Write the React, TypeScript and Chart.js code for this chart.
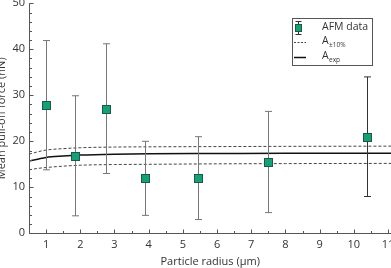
import React, { useEffect, useRef } from "react";
import { Chart, registerables } from "chart.js";

Chart.register(...registerables);

// AFM data
const radius = [1.0, 1.86, 2.75, 3.9, 5.45, 7.49, 10.39];
const force = [27.8, 16.8, 27.0, 12.0, 12.0, 15.5, 21.0];
const errHigh = [41.9, 29.9, 41.2, 20.0, 21.0, 26.5, 34.0];
const errLow = [13.8, 3.8, 13.0, 3.9, 3.0, 4.5, 8.0];

// Model curves
const curveX = [0.5, 0.75, 1, 1.5, 2, 3, 4, 6, 8, 11.1];
const aExp = [15.7, 16.1, 16.5, 16.8, 17.0, 17.2, 17.3, 17.35, 17.4, 17.4];
const aUpper = [17.2, 17.7, 18.1, 18.4, 18.6, 18.75, 18.8, 18.85, 18.9, 18.95];
const aLower = [13.8, 14.1, 14.3, 14.6, 14.8, 14.95, 15.0, 15.1, 15.15, 15.2];

// Ticks
const xTickValues = [1, 2, 3, 4, 5, 6, 7, 8, 9, 10, 11];
const yTickValues = [0, 10, 20, 30, 40, 50];

const FONT = "'Open Sans', 'Noto Sans', sans-serif";
const OFFSET = 9; // canvas shifted left by this many px
const errColors = ["#777", "#777", "#777", "#777", "#777", "#777", "#333"];

const errorBarPlugin = {
  id: "errorBars",
  afterDatasetsDraw(chart: any) {
    const { ctx, scales } = chart;
    const xs = scales.x, ys = scales.y;
    ctx.save();
    ctx.lineWidth = 1;
    radius.forEach((r, i) => {
      const x = Math.round(xs.getPixelForValue(r)) + 0.5;
      const yh = ys.getPixelForValue(errHigh[i]);
      const yl = ys.getPixelForValue(errLow[i]);
      ctx.strokeStyle = errColors[i];
      ctx.beginPath();
      ctx.moveTo(x, yh);
      ctx.lineTo(x, yl);
      ctx.moveTo(x - 3.5, yh);
      ctx.lineTo(x + 3.5, yh);
      ctx.moveTo(x - 3.5, yl);
      ctx.lineTo(x + 3.5, yl);
      ctx.stroke();
    });
    // markers on top of error bars
    const meta = chart.getDatasetMeta(0);
    meta.data.forEach((pt: any) => {
      const s = 8;
      const px = Math.round(pt.x) + 0.5;
      const py = Math.round(pt.y) + 0.5;
      ctx.fillStyle = "#17a077";
      ctx.strokeStyle = "#1d5a45";
      ctx.lineWidth = 1;
      ctx.fillRect(px - s / 2, py - s / 2, s, s);
      ctx.strokeRect(px - s / 2, py - s / 2, s, s);
    });
    ctx.restore();
  },
};

const axesPlugin = {
  id: "axesTicks",
  afterDraw(chart: any) {
    const { ctx, chartArea, scales } = chart;
    const xs = scales.x, ys = scales.y;
    ctx.save();
    ctx.strokeStyle = "#555";
    ctx.lineWidth = 1;
    const left = Math.round(chartArea.left) + 0.5;
    const bottom = Math.round(chartArea.bottom) + 0.5;
    ctx.beginPath();
    ctx.moveTo(left, chartArea.top);
    ctx.lineTo(left, bottom);
    ctx.lineTo(chartArea.right, bottom);
    for (let v = 0.5; v <= 11.01; v += 0.5) {
      const x = Math.round(xs.getPixelForValue(v)) + 0.5;
      const len = Number.isInteger(v) ? 4 : 2.5;
      ctx.moveTo(x, bottom);
      ctx.lineTo(x, bottom - len);
    }
    for (let v = 0; v <= 50; v += 2) {
      const y = Math.round(ys.getPixelForValue(v)) + 0.5;
      const len = v % 10 === 0 ? 4 : 2.5;
      ctx.moveTo(left, y);
      ctx.lineTo(left + len, y);
    }
    ctx.stroke();

    // Legend
    const ox = OFFSET;
    ctx.fillStyle = "#fff";
    ctx.fillRect(292 + ox, 18, 80, 47);
    ctx.strokeStyle = "#555";
    ctx.strokeRect(292.5 + ox, 18.5, 80, 47);
    // row 1 icon
    const ix = 298.5 + ox;
    ctx.strokeStyle = "#333";
    ctx.beginPath();
    ctx.moveTo(ix, 21.5);
    ctx.lineTo(ix, 34.5);
    ctx.moveTo(ix - 3, 21.5);
    ctx.lineTo(ix + 3, 21.5);
    ctx.moveTo(ix - 3, 34.5);
    ctx.lineTo(ix + 3, 34.5);
    ctx.stroke();
    ctx.fillStyle = "#17a077";
    ctx.strokeStyle = "#1d5a45";
    ctx.fillRect(ix - 3, 24.5, 6, 7);
    ctx.strokeRect(ix - 3, 24.5, 6, 7);
    // row 2 dashed
    ctx.strokeStyle = "#444";
    ctx.setLineDash([2, 1.5]);
    ctx.beginPath();
    ctx.moveTo(294 + ox, 42.5);
    ctx.lineTo(306 + ox, 42.5);
    ctx.stroke();
    ctx.setLineDash([]);
    // row 3 solid
    ctx.strokeStyle = "#111";
    ctx.lineWidth = 1.5;
    ctx.beginPath();
    ctx.moveTo(294 + ox, 57.5);
    ctx.lineTo(306 + ox, 57.5);
    ctx.stroke();
    // text
    ctx.fillStyle = "#333";
    ctx.textBaseline = "middle";
    ctx.textAlign = "left";
    ctx.font = `10.5px ${FONT}`;
    ctx.fillText("AFM data", 322 + ox, 27.5);
    ctx.fillText("A", 322 + ox, 41.5);
    ctx.fillText("A", 322 + ox, 56.5);
    ctx.font = `6.5px ${FONT}`;
    ctx.fillText("±10%", 329 + ox, 45);
    ctx.fillText("exp", 329 + ox, 60);
    ctx.restore();
  },
};

export default function App() {
  const ref = useRef<HTMLCanvasElement>(null);
  useEffect(() => {
    document.documentElement.style.overflow = "hidden";
    document.body.style.overflow = "hidden";
    const chart = new Chart(ref.current!, {
      type: "scatter",
      data: {
        datasets: [
          {
            label: "AFM data",
            data: radius.map((r, i) => ({ x: r, y: force[i] })),
            pointStyle: "rect",
            pointRadius: 0,
            backgroundColor: "#17a077",
            borderColor: "#1d5a45",
            showLine: false,
          },
          {
            label: "A+10%",
            data: curveX.map((x, i) => ({ x, y: aUpper[i] })),
            showLine: true,
            pointRadius: 0,
            borderColor: "#444",
            borderWidth: 1,
            borderDash: [3, 2],
            cubicInterpolationMode: "monotone",
          },
          {
            label: "A-10%",
            data: curveX.map((x, i) => ({ x, y: aLower[i] })),
            showLine: true,
            pointRadius: 0,
            borderColor: "#444",
            borderWidth: 1,
            borderDash: [3, 2],
            cubicInterpolationMode: "monotone",
          },
          {
            label: "Aexp",
            data: curveX.map((x, i) => ({ x, y: aExp[i] })),
            showLine: true,
            pointRadius: 0,
            borderColor: "#111",
            borderWidth: 1.5,
            cubicInterpolationMode: "monotone",
          },
        ],
      },
      options: {
        animation: false,
        responsive: true,
        maintainAspectRatio: false,
        layout: { padding: { left: 0, top: 3.3, right: 9.6, bottom: 0 } },
        plugins: { legend: { display: false }, tooltip: { enabled: false } },
        scales: {
          x: {
            type: "linear",
            min: 0.5,
            max: 11.1,
            grid: { display: false, drawTicks: false },
            border: { display: false },
            afterBuildTicks: (s: any) => {
              s.ticks = xTickValues.map((v) => ({ value: v }));
            },
            afterFit: (s: any) => {
              s.height = 34.7;
              s.paddingLeft = 0;
              s.paddingRight = 0;
            },
            ticks: {
              padding: 5,
              color: "#333",
              font: { family: FONT, size: 11 },
              maxRotation: 0,
              autoSkip: false,
            },
            title: {
              display: true,
              text: "Particle radius (μm)",
              color: "#333",
              font: { family: FONT, size: 11 },
              padding: { top: 0, bottom: 0 },
            },
          },
          y: {
            type: "linear",
            min: 0,
            max: 50,
            grid: { display: false, drawTicks: false },
            border: { display: false },
            afterBuildTicks: (s: any) => {
              s.ticks = yTickValues.map((v) => ({ value: v }));
            },
            afterFit: (s: any) => {
              s.width = 38;
              s.paddingTop = 0;
              s.paddingBottom = 0;
            },
            ticks: {
              padding: 4,
              color: "#333",
              font: { family: FONT, size: 11 },
            },
            title: {
              display: true,
              text: "Mean pull-off force (nN)",
              color: "#333",
              font: { family: FONT, size: 11 },
              padding: { top: 4, bottom: 4 },
            },
          },
        },
      },
      plugins: [errorBarPlugin, axesPlugin],
    } as any);
    return () => chart.destroy();
  }, []);
  return (
    <div style={{ position: "fixed", left: 0, top: 0, width: 391, height: 268, overflow: "hidden", background: "#fff" }}>
      <div style={{ position: "absolute", left: -OFFSET, top: 0, width: 410, height: 268 }}>
        <canvas ref={ref} />
      </div>
    </div>
  );
}
